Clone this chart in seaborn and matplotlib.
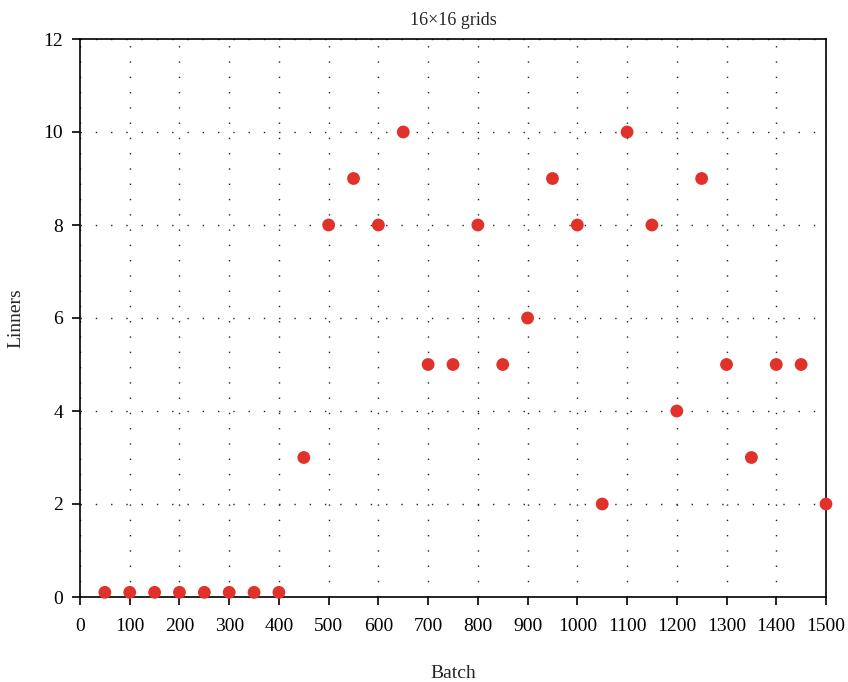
import matplotlib
matplotlib.use("Agg")
import matplotlib.pyplot as plt
import seaborn as sns
import pandas as pd

batch = [50, 100, 150, 200, 250, 300, 350, 400, 450, 500, 550, 600, 650, 700, 750,
         800, 850, 900, 950, 1000, 1050, 1100, 1150, 1200, 1250, 1300, 1350, 1400, 1450, 1500]
linners = [0.1, 0.1, 0.1, 0.1, 0.1, 0.1, 0.1, 0.1, 3, 8, 9, 8, 10, 5, 5,
           8, 5, 6, 9, 8, 2, 10, 8, 4, 9, 5, 3, 5, 5, 2]
x_ticks = list(range(0, 1501, 100))
y_ticks = list(range(0, 13, 2))

sns.set_theme(style="ticks")
plt.rcParams['font.family'] = ['Liberation Serif', 'DejaVu Serif']

df = pd.DataFrame({"Batch": batch, "Linners": linners})

fig = plt.figure(figsize=(8.48, 6.82), dpi=100)
ax = fig.add_axes([80/848, 1 - 597/682, (826-80)/848, (597-39)/682])
sns.scatterplot(data=df, x="Batch", y="Linners", ax=ax, color="#e0312a",
                s=85, edgecolor="none", zorder=3, clip_on=False)
ax.set_xlim(0, 1500)
ax.set_ylim(0, 12)
ax.set_xticks(x_ticks)
ax.set_yticks(y_ticks)
ax.grid(True, linestyle=(0, (1, 10)), color="#222222", linewidth=1.0)
for s in ax.spines.values():
    s.set_linewidth(1.2)
    s.set_color("black")
    s.set_visible(True)
ax.tick_params(direction="out", length=6, width=1.2, labelsize=14, colors="black", pad=6)
ax.tick_params(axis="x", pad=9)
ax.set_xlabel("Batch", fontsize=14, labelpad=22)
ax.set_ylabel("Linners", fontsize=14, labelpad=14)
ax.set_title("16×16 grids", fontsize=13, pad=10)
fig.savefig("out.png", dpi=100)
